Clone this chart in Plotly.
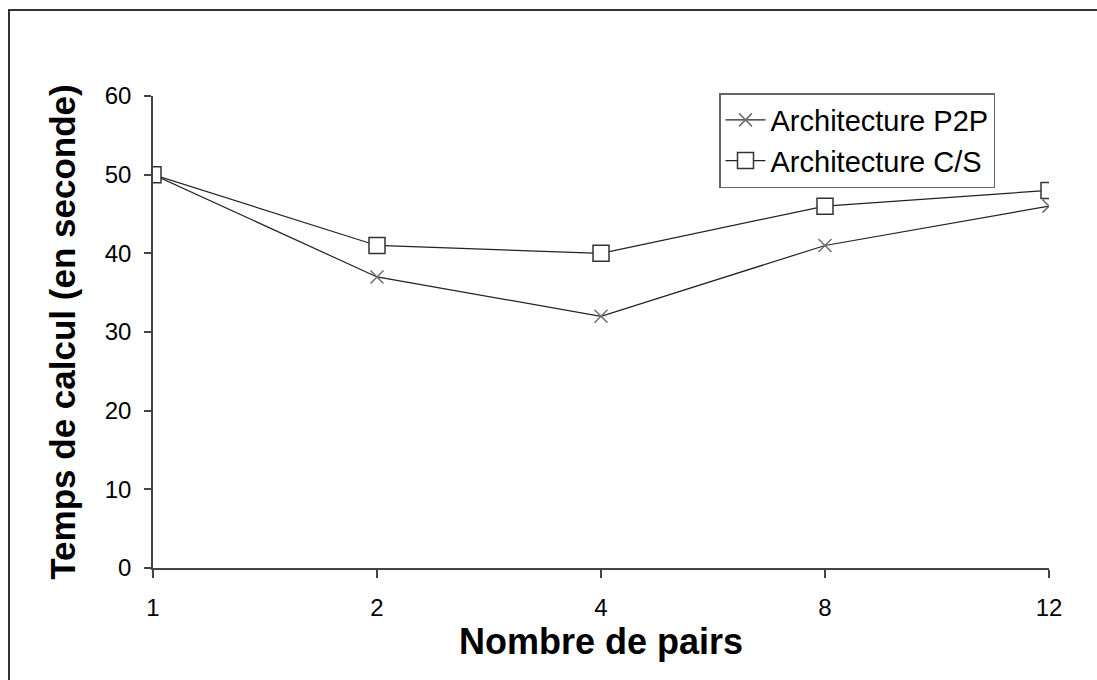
import plotly.graph_objects as go

categories = ["1", "2", "4", "8", "12"]
p2p_values = [50, 37, 32, 41, 46]
cs_values = [50, 41, 40, 46, 48]
y_ticks = [0, 10, 20, 30, 40, 50, 60]

W, H = 1097, 680
L, R, T, B = 153, 48, 96, 112
pw, ph = W - L - R, H - T - B

fig = go.Figure()
fig.add_trace(go.Scatter(
    x=categories, y=p2p_values, name="Architecture P2P", mode="lines+markers",
    line=dict(color="#222222", width=1.2),
    marker=dict(symbol="x-thin-open", size=13, color="#6e6e6e", line=dict(color="#6e6e6e", width=1.5)),
))
fig.add_trace(go.Scatter(
    x=categories, y=cs_values, name="Architecture C/S", mode="lines+markers",
    line=dict(color="#222222", width=1.2),
    marker=dict(symbol="square", size=16, color="white", line=dict(color="#333333", width=1.5)),
))

def px_x(px):
    return (px - L) / pw

def px_y(py):
    return (H - B - py) / ph

fig.add_shape(type="rect", xref="paper", yref="paper",
              x0=px_x(9), x1=px_x(1110), y0=px_y(700), y1=px_y(10),
              line=dict(color="#333333", width=2), fillcolor="rgba(0,0,0,0)", layer="below")

fig.update_layout(
    width=W, height=H,
    margin=dict(l=L, r=R, t=T, b=B),
    plot_bgcolor="white", paper_bgcolor="white",
    font=dict(family="Liberation Sans, Arial, sans-serif", color="black"),
    showlegend=True,
    legend=dict(x=px_x(719), y=px_y(93), xanchor="left", yanchor="top",
                bordercolor="#666666", borderwidth=1.5, bgcolor="white",
                font=dict(size=29, color="black"), itemwidth=40,
                tracegroupgap=0),
    xaxis=dict(type="category", range=[0, 4], showgrid=False, zeroline=False,
               showline=True, linecolor="#444444", linewidth=1.5,
               ticks="outside", ticklen=8, tickwidth=1.5, tickcolor="#444444",
               tickfont=dict(size=24, color="black"), ticklabelstandoff=9,
               title=dict(text="<b>Nombre de pairs</b>", font=dict(size=36, color="black"), standoff=1)),
    yaxis=dict(range=[0, 60], tickvals=y_ticks, showgrid=False, zeroline=False,
               showline=True, linecolor="#444444", linewidth=1.5,
               ticks="outside", ticklen=7, tickwidth=1.5, tickcolor="#444444",
               tickfont=dict(size=24, color="black"), ticklabelstandoff=8,
               title=dict(text="<b>Temps de calcul (en seconde)</b>", font=dict(size=35, color="black"), standoff=18)),
)

fig.write_html("out.html", config={"displayModeBar": False},
               post_script="document.body.style.margin='0';document.body.style.padding='0';")
